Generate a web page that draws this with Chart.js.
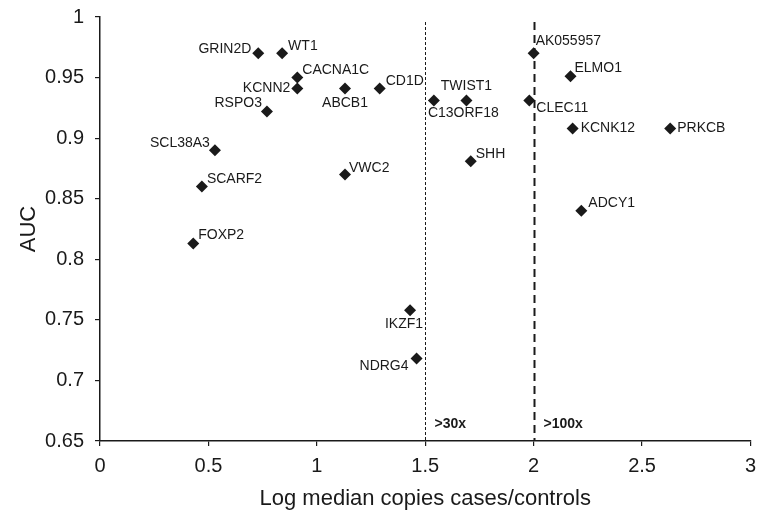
<!DOCTYPE html>
<html>
<head>
<meta charset="utf-8">
<script src="https://cdn.jsdelivr.net/npm/chart.js@4"></script>
<style>
  html, body { margin: 0; padding: 0; background: #fff; }
  #wrap { width: 764px; height: 520px; }
</style>
</head>
<body>
<div id="wrap"><canvas id="aucChart" width="764" height="520"></canvas></div>
<script>
// gene markers: log median copies cases/controls vs AUC
const genes = ["GRIN2D", "WT1", "CACNA1C", "KCNN2", "ABCB1", "CD1D", "RSPO3", "SCL38A3", "SCARF2", "VWC2", "FOXP2",
  "C13ORF18", "TWIST1", "AK055957", "ELMO1", "CLEC11", "KCNK12", "PRKCB", "SHH", "ADCY1", "IKZF1", "NDRG4"];
const logRatio = [0.73, 0.84, 0.91, 0.91, 1.13, 1.29, 0.77, 0.53, 0.47, 1.13, 0.43,
  1.54, 1.69, 2.0, 2.17, 1.98, 2.18, 2.63, 1.71, 2.22, 1.43, 1.46];
const auc = [0.970, 0.970, 0.950, 0.941, 0.941, 0.941, 0.922, 0.890, 0.860, 0.870, 0.813,
  0.931, 0.931, 0.970, 0.951, 0.931, 0.908, 0.908, 0.881, 0.840, 0.758, 0.718];
const yTicks = [0.65, 0.7, 0.75, 0.8, 0.85, 0.9, 0.95, 1];
const xTicks = [0, 0.5, 1, 1.5, 2, 2.5, 3];
const thresholds = [1.5, 2];
const thresholdLabels = [">30x", ">100x"];

// where each label sits relative to its marker
const placement = {
  GRIN2D: [-7, -4, "right"], WT1: [6, -7, "left"], CACNA1C: [5, -7, "left"], KCNN2: [-7, 0, "right"],
  ABCB1: [0, 15, "center"], CD1D: [6, -7, "left"], RSPO3: [-5, -8, "right"], SCL38A3: [-5, -7, "right"],
  SCARF2: [5, -7, "left"], VWC2: [4, -6, "left"], FOXP2: [5, -8, "left"], C13ORF18: [-6, 13, "left"],
  TWIST1: [0, -14, "center"], AK055957: [2, -12, "left"], ELMO1: [4, -8, "left"], CLEC11: [7, 8, "left"],
  KCNK12: [8, 0, "left"], PRKCB: [7, 0, "left"], SHH: [5, -7, "left"], ADCY1: [7, -8, "left"],
  IKZF1: [13, 14, "right"], NDRG4: [-8, 8, "right"]
};

const ink = "#1a1a1a";
const font = "'Liberation Sans', Arial, sans-serif";

const extras = {
  id: "extras",
  beforeDatasetsDraw(chart) {
    const c = chart.ctx, xs = chart.scales.x, area = chart.chartArea;
    c.save();
    c.strokeStyle = ink;
    thresholds.forEach((t, i) => {
      const px = Math.round(xs.getPixelForValue(t)) + 0.5;
      c.lineWidth = i === 0 ? 1 : 2;
      c.setLineDash(i === 0 ? [3, 2] : [8, 5]);
      c.beginPath();
      c.moveTo(px, area.top + 5);
      c.lineTo(px, area.bottom);
      c.stroke();
      c.setLineDash([]);
      c.fillStyle = ink;
      c.font = "bold 14px " + font;
      c.textAlign = "left";
      c.textBaseline = "middle";
      c.fillText(thresholdLabels[i], px + 9, area.bottom - 17);
    });
    c.restore();
  },
  afterDatasetsDraw(chart) {
    const c = chart.ctx, meta = chart.getDatasetMeta(0);
    c.save();
    c.fillStyle = ink;
    c.font = "14px " + font;
    c.textBaseline = "middle";
    meta.data.forEach((pt, i) => {
      const p = placement[genes[i]];
      c.textAlign = p[2];
      c.fillText(genes[i], pt.x + p[0], pt.y + p[1]);
    });
    c.restore();
  }
};

new Chart(document.getElementById("aucChart"), {
  type: "scatter",
  data: {
    labels: genes,
    datasets: [{
      data: logRatio.map((x, i) => ({ x: x, y: auc[i] })),
      pointStyle: "rectRot",
      pointRadius: 6,
      pointHoverRadius: 6,
      backgroundColor: ink,
      borderColor: ink,
      borderWidth: 0
    }]
  },
  options: {
    responsive: false,
    animation: false,
    layout: { padding: { top: 17, right: 12, left: 0, bottom: 0 } },
    plugins: { legend: { display: false }, tooltip: { enabled: false } },
    scales: {
      x: {
        type: "linear",
        min: 0, max: 3,
        afterBuildTicks: s => { s.ticks = xTicks.map(v => ({ value: v })); },
        afterFit: s => { s.height = 79; },
        border: { color: ink, width: 1.5 },
        grid: { drawOnChartArea: false, drawTicks: true, tickLength: 5, color: ink, lineWidth: 1.2 },
        ticks: { color: ink, font: { family: font, size: 20 }, padding: 8, callback: v => String(v) },
        title: { display: true, text: "Log median copies cases/controls", color: ink,
          font: { family: font, size: 22 }, padding: { top: 0, bottom: 8 } }
      },
      y: {
        type: "linear",
        min: 0.65, max: 1,
        afterBuildTicks: s => { s.ticks = yTicks.map(v => ({ value: v })); },
        afterFit: s => { s.width = 100; s.paddingTop = 0; s.paddingBottom = 0; },
        border: { color: ink, width: 1.5 },
        grid: { drawOnChartArea: false, drawTicks: true, tickLength: 5, color: ink, lineWidth: 1.2 },
        ticks: { color: ink, font: { family: font, size: 20 }, padding: 11,
          callback: v => String(Number(v.toFixed(2))) },
        title: { display: true, text: "AUC", color: ink, font: { family: font, size: 22 }, padding: { top: 16, bottom: 0 } }
      }
    }
  },
  plugins: [extras]
});
</script>
</body>
</html>
